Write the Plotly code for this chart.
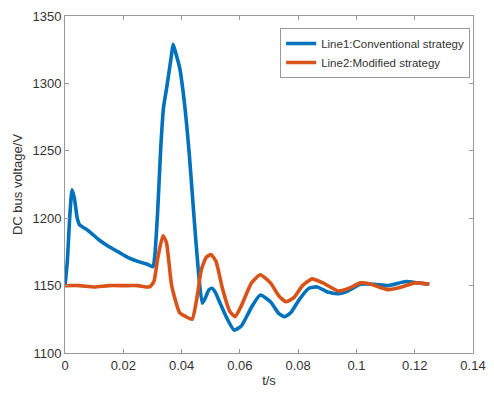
import plotly.graph_objects as go

# Line1: Conventional strategy
t1 = [0.0, 0.0008, 0.0016, 0.0024, 0.0032, 0.0042, 0.005, 0.0072, 0.0095, 0.0116, 0.015,
      0.0183, 0.0215, 0.025, 0.028, 0.0302, 0.0308, 0.0318, 0.0328, 0.0338, 0.0349,
      0.0358, 0.0366, 0.0371, 0.0378, 0.0393, 0.041, 0.0427, 0.0443, 0.0458, 0.0471,
      0.0482, 0.0494, 0.0504, 0.0516, 0.053, 0.0555, 0.058, 0.0605, 0.064, 0.067,
      0.0705, 0.0735, 0.0754, 0.0775, 0.0805, 0.0837, 0.0865, 0.0905, 0.0937, 0.097,
      0.1014, 0.106, 0.111, 0.117, 0.121, 0.125]
v1 = [1150, 1168, 1200, 1221, 1215, 1200, 1195, 1192, 1188, 1184, 1179,
      1175, 1171, 1168, 1166, 1164, 1172, 1205, 1250, 1282, 1297,
      1310, 1322, 1329, 1324, 1312, 1285, 1246, 1200, 1160, 1137,
      1141, 1147, 1148, 1145, 1138, 1126, 1117, 1120, 1134, 1143,
      1138, 1129, 1127, 1130, 1140, 1148, 1149, 1145, 1144, 1146,
      1151, 1151, 1150, 1153, 1152, 1151]

# Line2: Modified strategy
t2 = [0.0, 0.005, 0.01, 0.015, 0.02, 0.025, 0.029, 0.0305, 0.0318, 0.0336, 0.0348,
      0.0366, 0.0393, 0.0415, 0.0436, 0.0452, 0.0468, 0.0485, 0.0501, 0.0518, 0.054,
      0.0565, 0.0584, 0.0605, 0.064, 0.067, 0.0705, 0.0735, 0.0759, 0.0785, 0.0815,
      0.0848, 0.0885, 0.0937, 0.0975, 0.1014, 0.105, 0.1108, 0.1155, 0.12, 0.125]
v2 = [1150, 1150, 1149, 1150, 1150, 1150, 1149, 1153, 1170, 1187, 1182,
      1150, 1130, 1127, 1125, 1140, 1162, 1171, 1173, 1168, 1148,
      1131, 1127, 1135, 1152, 1158, 1152, 1142, 1138, 1141, 1150,
      1155, 1152, 1146, 1148, 1152, 1151, 1147, 1149, 1152, 1151]

xticks = [0, 0.02, 0.04, 0.06, 0.08, 0.1, 0.12, 0.14]
xticklabels = ["0", "0.02", "0.04", "0.06", "0.08", "0.1", "0.12", "0.14"]
yticks = [1100, 1150, 1200, 1250, 1300, 1350]

fig = go.Figure()
fig.add_trace(go.Scatter(x=t1, y=v1, mode="lines", name="Line1:Conventional strategy",
                         line=dict(color="#0072BD", width=3.6, shape="spline", smoothing=0.5)))
fig.add_trace(go.Scatter(x=t2, y=v2, mode="lines", name="Line2:Modified strategy",
                         line=dict(color="#D95319", width=3.6, shape="spline", smoothing=0.5)))

axis_common = dict(showgrid=False, zeroline=False, showline=True, linecolor="#9a9a9a",
                   linewidth=1, mirror="ticks", ticks="inside", ticklen=4, tickcolor="#9a9a9a",
                   tickfont=dict(family="Liberation Sans, Arial", size=13, color="#333333"))

fig.update_layout(
    width=494, height=394,
    margin=dict(l=65, r=8, t=16, b=40),
    paper_bgcolor="white", plot_bgcolor="white",
    font=dict(family="Liberation Sans, Arial", color="#333333"),
    xaxis=dict(range=[0, 0.14], tickvals=xticks, ticktext=xticklabels,
               ticklabeloverflow="allow",
               title=dict(text="t/s", font=dict(size=13), standoff=4), **axis_common),
    yaxis=dict(range=[1100, 1350], tickvals=yticks,
               title=dict(text="DC bus voltage/V", font=dict(size=13), standoff=6), **axis_common),
    legend=dict(x=0.993, y=0.9645, xanchor="right", yanchor="top", bgcolor="white",
                bordercolor="#9a9a9a", borderwidth=1,
                font=dict(family="Liberation Sans, Arial", size=11.5, color="#333333"),
                tracegroupgap=0, itemwidth=30),
    showlegend=True,
)

fig.write_html("out.html")
